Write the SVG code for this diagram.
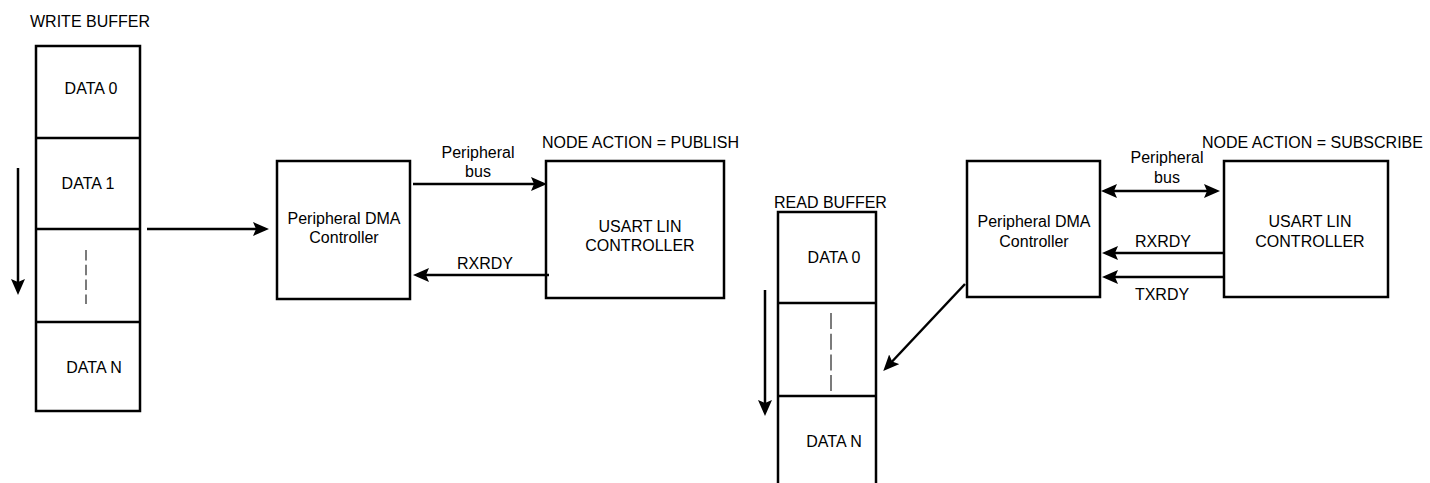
<svg xmlns="http://www.w3.org/2000/svg" width="1430" height="483" viewBox="0 0 1430 483">
<style>
  .box{fill:#fff;stroke:#000;stroke-width:2.5}
  .div{stroke:#000;stroke-width:2.5}
  .dash{stroke:#444;stroke-width:1.4}
  .arr{stroke:#000;stroke-width:2.5;fill:none}
  text{font-family:"Liberation Sans",Arial,sans-serif;font-size:16px;fill:#000}
  .c{text-anchor:middle}
</style>
<defs>
  <marker id="ah" markerUnits="userSpaceOnUse" markerWidth="20" markerHeight="18" refX="12" refY="7" orient="auto-start-reverse">
    <path d="M0,0 L16,7 L0,14 L3,7 Z" fill="#000"/>
  </marker>
</defs>

<g id="write-buffer">
  <text x="30" y="27">WRITE BUFFER</text>
  <rect class="box" x="36" y="46" width="104" height="365"/>
  <line class="div" x1="36" y1="138" x2="140" y2="138"/>
  <line class="div" x1="36" y1="229" x2="140" y2="229"/>
  <line class="div" x1="36" y1="322" x2="140" y2="322"/>
  <text class="c" x="91" y="94">DATA 0</text>
  <text class="c" x="88" y="189">DATA 1</text>
  <line class="dash" x1="86" y1="250" x2="86" y2="304" stroke-dasharray="10.5,4.3"/>
  <text class="c" x="94" y="373">DATA N</text>
</g>

<g id="dma-1">
  <rect class="box" x="277" y="161" width="133" height="138"/>
  <text class="c" x="344" y="224">Peripheral DMA</text>
  <text class="c" x="344" y="243">Controller</text>
</g>

<g id="usart-1">
  <text x="542" y="148">NODE ACTION = PUBLISH</text>
  <rect class="box" x="546" y="161" width="178" height="137"/>
  <text class="c" x="640" y="232">USART LIN</text>
  <text class="c" x="640" y="251">CONTROLLER</text>
</g>

<g id="read-buffer">
  <text x="774" y="208">READ BUFFER</text>
  <rect class="box" x="778" y="212" width="98" height="290"/>
  <line class="div" x1="778" y1="303" x2="876" y2="303"/>
  <line class="div" x1="778" y1="396" x2="876" y2="396"/>
  <text class="c" x="834" y="263">DATA 0</text>
  <line class="dash" x1="831" y1="313" x2="831" y2="391" stroke-dasharray="16,4.7"/>
  <text class="c" x="834" y="447">DATA N</text>
</g>

<g id="dma-2">
  <rect class="box" x="967" y="161" width="133" height="136"/>
  <text class="c" x="1034" y="227">Peripheral DMA</text>
  <text class="c" x="1034" y="247">Controller</text>
</g>

<g id="usart-2">
  <text x="1202" y="148">NODE ACTION = SUBSCRIBE</text>
  <rect class="box" x="1224" y="161" width="164" height="136"/>
  <text class="c" x="1310" y="227">USART LIN</text>
  <text class="c" x="1310" y="247">CONTROLLER</text>
</g>

<g id="connectors">
  <line class="arr" x1="18" y1="168" x2="18" y2="291" marker-end="url(#ah)"/>
  <line class="arr" x1="147" y1="229" x2="265" y2="229" marker-end="url(#ah)"/>
  <line class="arr" x1="413" y1="184" x2="543" y2="184" marker-end="url(#ah)"/>
  <text class="c" x="478" y="158">Peripheral</text>
  <text class="c" x="478" y="177">bus</text>
  <line class="arr" x1="549" y1="275" x2="417" y2="275" marker-end="url(#ah)"/>
  <text class="c" x="485" y="269">RXRDY</text>

  <line class="arr" x1="765" y1="290" x2="765" y2="412" marker-end="url(#ah)"/>
  <line class="arr" x1="965" y1="284" x2="886" y2="368" marker-end="url(#ah)"/>

  <line class="arr" x1="1105" y1="191" x2="1216" y2="191" marker-start="url(#ah)" marker-end="url(#ah)"/>
  <text class="c" x="1167" y="163">Peripheral</text>
  <text class="c" x="1167" y="183">bus</text>
  <line class="arr" x1="1223" y1="253" x2="1106" y2="253" marker-end="url(#ah)"/>
  <text class="c" x="1163" y="247">RXRDY</text>
  <line class="arr" x1="1223" y1="277" x2="1106" y2="277" marker-end="url(#ah)"/>
  <text class="c" x="1162" y="300">TXRDY</text>
</g>
</svg>
